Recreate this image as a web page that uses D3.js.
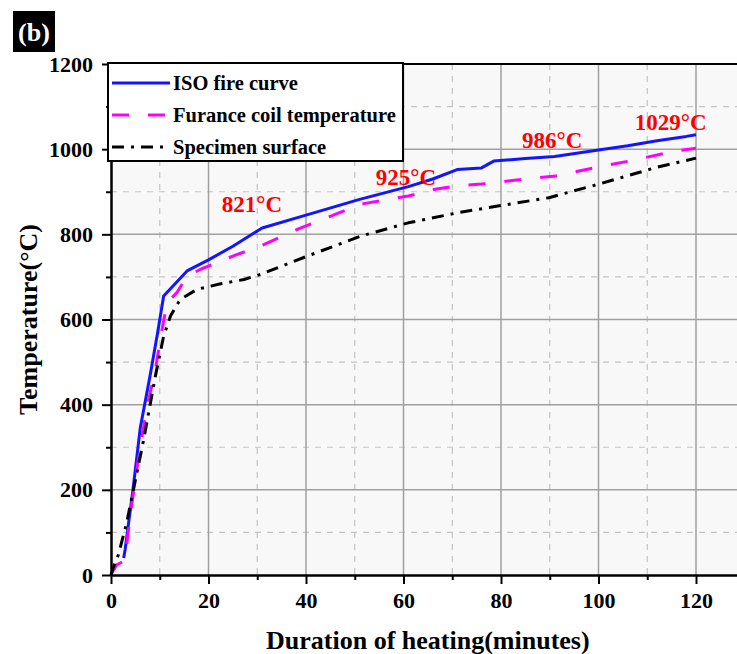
<!DOCTYPE html>
<html>
<head>
<meta charset="utf-8">
<script src="https://cdn.jsdelivr.net/npm/d3@7"></script>
<style>
  body { margin: 0; background: #fff; }
  svg { display: block; }
  text { font-family: "Liberation Serif", "Times New Roman", serif; font-weight: bold; }
</style>
</head>
<body>
<script>
// furnace test, temperature vs time
var isoCurve = [
  [2.6, 40], [2.9, 60], [4.5, 200], [6, 345], [8, 467], [9.5, 565], [10.8, 655],
  [15.6, 714], [20, 740], [25, 772], [31, 815], [40, 845], [51, 882], [61, 912],
  [66, 930], [71, 952], [76, 956], [78.5, 972], [85, 978], [91, 983], [100, 998],
  [106, 1008], [112, 1020], [118, 1030], [120, 1034]
];
var furnaceCoil = [
  [0, 2], [1.2, 24], [2.5, 32], [3.2, 70], [4.3, 169], [6, 302], [7.5, 400],
  [9.1, 482], [10.4, 572], [11.5, 640], [13.5, 663], [15.6, 702], [18.4, 718],
  [25.9, 753], [30, 769], [38.3, 812], [51.3, 871], [61, 890], [66.5, 906],
  [71.3, 914], [76, 918], [84.3, 929], [91.2, 937], [99.4, 957], [106.3, 972],
  [115.9, 996], [120, 1002]
];
var specimenSurface = [
  [0, 0], [0.8, 28], [1.5, 47], [3.2, 122], [4.6, 200], [6.7, 318], [9.1, 467],
  [10.8, 561], [12.2, 608], [14.2, 647], [17.7, 671], [22.5, 684], [27.3, 694],
  [30.7, 706], [40.3, 749], [51.3, 796], [61, 827], [71.3, 851], [77.5, 863],
  [89.8, 886], [100.1, 918], [111.8, 957], [120, 979]
];

var seriesNames = ["ISO fire curve", "Furance coil temperature", "Specimen surface"];
var xMajor = [0, 20, 40, 60, 80, 100, 120];
var xMinor = [10, 30, 50, 70, 90, 110, 130];
var yMajor = [0, 200, 400, 600, 800, 1000, 1200];
var yMinor = [100, 300, 500, 700, 900, 1100];

var annoLabels = ["821°C", "925°C", "986°C", "1029°C"];
var annoX = [28.9, 60.5, 90.5, 114.8];
var annoY = [852, 916, 1002, 1045];

var W = 737, H = 654,
    pLeft = 111, pTop = 64, pBottom = 575, pRight = 744.75;

var x = d3.scaleLinear().domain([0, 130]).range([pLeft, pRight]);
var y = d3.scaleLinear().domain([0, 1200]).range([pBottom, pTop]);

var svg = d3.select("body").append("svg")
    .attr("width", W).attr("height", H);

svg.append("rect")
    .attr("x", pLeft).attr("y", pTop)
    .attr("width", pRight - pLeft).attr("height", pBottom - pTop)
    .attr("fill", "#f8f8f8");

// grid
var grid = svg.append("g");
grid.selectAll(".vmin").data(xMinor).enter().append("line")
    .attr("x1", d => x(d)).attr("x2", d => x(d))
    .attr("y1", pTop).attr("y2", pBottom)
    .attr("stroke", "#c4c4c4").attr("stroke-width", 1.2).attr("stroke-dasharray", "6,6");
grid.selectAll(".hmin").data(yMinor).enter().append("line")
    .attr("x1", pLeft).attr("x2", pRight)
    .attr("y1", d => y(d)).attr("y2", d => y(d))
    .attr("stroke", "#c4c4c4").attr("stroke-width", 1.2).attr("stroke-dasharray", "6,6");
grid.selectAll(".vmaj").data(xMajor.slice(1)).enter().append("line")
    .attr("x1", d => x(d)).attr("x2", d => x(d))
    .attr("y1", pTop).attr("y2", pBottom)
    .attr("stroke", "#a0a0a0").attr("stroke-width", 1.5);
grid.selectAll(".hmaj").data(yMajor.slice(1, -1)).enter().append("line")
    .attr("x1", pLeft).attr("x2", pRight)
    .attr("y1", d => y(d)).attr("y2", d => y(d))
    .attr("stroke", "#a0a0a0").attr("stroke-width", 1.5);

var line = d3.line().x(d => x(d[0])).y(d => y(d[1]));

var styles = [
  { color: "#1414ff", dash: null },
  { color: "#ff00ff", dash: "17,19" },
  { color: "#000000", dash: "12,7,3,7" }
];

[isoCurve, furnaceCoil, specimenSurface].forEach(function(s, i) {
  svg.append("path")
      .datum(s)
      .attr("d", line)
      .attr("fill", "none")
      .attr("stroke", styles[i].color)
      .attr("stroke-width", 3)
      .attr("stroke-linejoin", "round")
      .attr("stroke-dasharray", styles[i].dash);
});

// axes
function styleAxis(g) {
  g.select(".domain").attr("stroke", "#000").attr("stroke-width", 2);
  g.selectAll(".tick line").attr("stroke", "#000").attr("stroke-width", 2);
  g.selectAll("text").attr("fill", "#000").style("font-size", "22px")
      .style("font-family", "'Liberation Serif', serif").style("font-weight", "bold");
}

svg.append("g")
    .attr("transform", "translate(0," + pBottom + ")")
    .call(d3.axisBottom(x).tickValues(xMinor).tickSize(5).tickFormat("").tickSizeOuter(0))
    .call(styleAxis);
svg.append("g")
    .attr("transform", "translate(0," + pBottom + ")")
    .call(d3.axisBottom(x).tickValues(xMajor).tickSize(9).tickPadding(8)
      .tickFormat(d3.format("d")).tickSizeOuter(0))
    .call(styleAxis);

svg.append("g")
    .attr("transform", "translate(" + pLeft + ",0)")
    .call(d3.axisLeft(y).tickValues(yMinor).tickSize(5).tickFormat("").tickSizeOuter(0))
    .call(styleAxis);
svg.append("g")
    .attr("transform", "translate(" + pLeft + ",0)")
    .call(d3.axisLeft(y).tickValues(yMajor).tickSize(9).tickPadding(9)
      .tickFormat(d3.format("d")).tickSizeOuter(0))
    .call(styleAxis);

// top frame line
svg.append("line")
    .attr("x1", pLeft - 1).attr("x2", W)
    .attr("y1", pTop).attr("y2", pTop)
    .attr("stroke", "#000").attr("stroke-width", 2);

// annotations
svg.selectAll(".anno").data(annoLabels).enter().append("text")
    .attr("x", (d, i) => x(annoX[i]))
    .attr("y", (d, i) => y(annoY[i]))
    .attr("text-anchor", "middle")
    .attr("fill", "#ff0000")
    .style("font-size", "23px")
    .text(d => d);

// legend
var lg = svg.append("g");
lg.append("rect")
    .attr("x", 108).attr("y", 63)
    .attr("width", 295).attr("height", 98)
    .attr("fill", "#fff").attr("stroke", "#000").attr("stroke-width", 2);
seriesNames.forEach(function(name, i) {
  var ly = 83 + i * 32;
  lg.append("line")
      .attr("x1", 112).attr("x2", 170)
      .attr("y1", ly).attr("y2", ly)
      .attr("stroke", styles[i].color)
      .attr("stroke-width", 3)
      .attr("stroke-dasharray", styles[i].dash);
  lg.append("text")
      .attr("x", 173).attr("y", ly + 7)
      .style("font-size", "20.5px")
      .attr("fill", "#000")
      .text(name);
});

// axis titles
svg.append("text")
    .attr("x", (pLeft + pRight) / 2).attr("y", 649)
    .attr("text-anchor", "middle")
    .style("font-size", "26px")
    .text("Duration of heating(minutes)");

svg.append("text")
    .attr("transform", "translate(37," + ((pTop + pBottom) / 2) + ")rotate(-90)")
    .attr("text-anchor", "middle")
    .style("font-size", "26px")
    .text("Temperature(°C)");

// panel tag
svg.append("rect")
    .attr("x", 13).attr("y", 11).attr("width", 42).attr("height", 41)
    .attr("fill", "#000");
svg.append("text")
    .attr("x", 34).attr("y", 41)
    .attr("text-anchor", "middle")
    .attr("fill", "#fff")
    .style("font-size", "26px")
    .text("(b)");
</script>
</body>
</html>
